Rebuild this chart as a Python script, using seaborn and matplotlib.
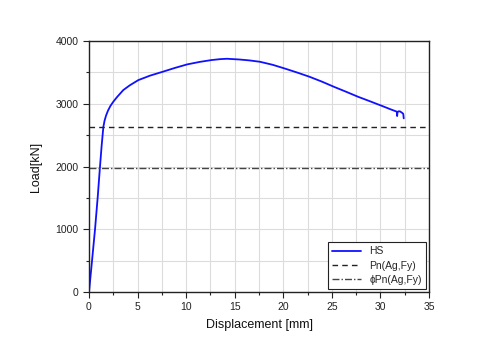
import matplotlib
matplotlib.use("Agg")
import matplotlib.pyplot as plt
import seaborn as sns
import numpy as np
import pandas as pd
from matplotlib.ticker import MultipleLocator

sns.set_theme(style="white")
plt.rcParams['font.family'] = ['Liberation Sans', 'DejaVu Sans']

# HS load-displacement curve
disp = [0.0, 0.3, 0.62, 0.9, 1.13, 1.3, 1.48, 1.6, 1.75, 1.95, 2.2, 2.5, 2.9, 3.53,
        4.2, 5.08, 6.3, 7.59, 8.8, 10.1, 11.4, 12.6, 13.5, 14.2, 15.5, 16.5, 17.6,
        18.9, 20.1, 21.4, 22.7, 24.0, 25.2, 26.5, 27.7, 29.0, 30.2, 31.0, 31.7,
        31.72, 31.75, 31.85, 32.0, 32.2, 32.35, 32.4]
load = [0, 480, 1000, 1520, 1997, 2330, 2634, 2730, 2810, 2890, 2965, 3033, 3110, 3219,
        3295, 3378, 3450, 3511, 3570, 3628, 3668, 3697, 3712, 3718, 3706, 3692, 3670,
        3622, 3565, 3500, 3431, 3352, 3272, 3190, 3112, 3036, 2964, 2915, 2874,
        2805, 2860, 2880, 2880, 2860, 2840, 2768]

pn_value = 2625
phi_pn_value = 1969

series_labels = ["HS", "Pn(Ag,Fy)", "ϕPn(Ag,Fy)"]
x_ticks = [0, 5, 10, 15, 20, 25, 30, 35]
y_ticks = [0, 1000, 2000, 3000, 4000]

df = pd.DataFrame({"disp": disp, "load": load})

fig = plt.figure(figsize=(5.0, 3.51), dpi=100)
ax = fig.add_axes([0.178, 0.168, 0.68, 0.715])

sns.lineplot(data=df, x="disp", y="load", ax=ax, color="#1010ff", lw=1.3,
             label=series_labels[0], sort=False, estimator=None)
ax.axhline(pn_value, color="#222222", lw=1.0, ls=(0, (4, 3)), label=series_labels[1])
ax.axhline(phi_pn_value, color="#444444", lw=1.0, ls=(0, (5, 1.5, 1, 1.5)), label=series_labels[2])

ax.set_xlim(0, 35)
ax.set_ylim(0, 4000)
ax.set_xticks(x_ticks)
ax.set_yticks(y_ticks)
ax.xaxis.set_minor_locator(MultipleLocator(2.5))
ax.yaxis.set_minor_locator(MultipleLocator(500))
ax.grid(True, which="both", color="#dcdcdc", lw=0.8)
ax.set_axisbelow(True)

ax.tick_params(axis="both", which="major", direction="out", length=4, width=0.8,
               labelsize=7.5, colors="#222222", bottom=True, left=True)
ax.tick_params(axis="both", which="minor", direction="out", length=2.5, width=0.8,
               bottom=True, left=True, colors="#222222")
for s in ax.spines.values():
    s.set_color("#222222")
    s.set_linewidth(1.0)

ax.set_xlabel("Displacement [mm]", fontsize=9, color="#111111", labelpad=5)
ax.set_ylabel("Load[kN]", fontsize=9, color="#111111", labelpad=10)

leg = ax.legend(loc="lower right", fontsize=7.5, frameon=True, fancybox=False,
                edgecolor="#222222", framealpha=1, borderpad=0.4, handlelength=2.8,
                labelspacing=0.4, borderaxespad=0.3)
leg.get_frame().set_linewidth(0.8)

fig.savefig("out.png", dpi=100)
